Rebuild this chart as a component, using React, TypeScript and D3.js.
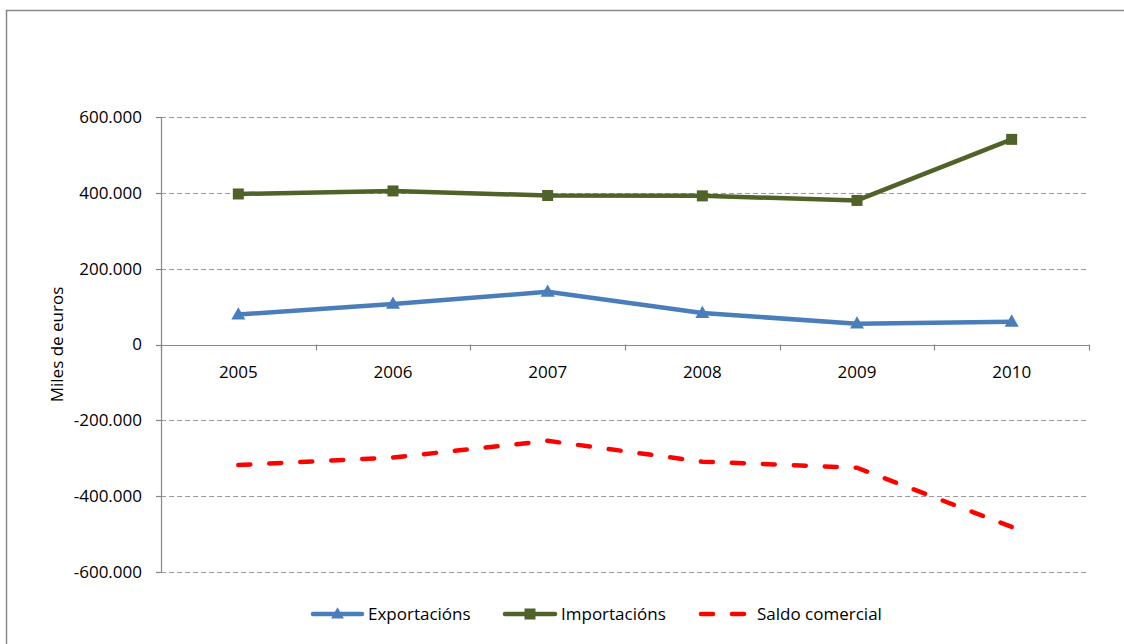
import React from "react";
import * as d3 from "d3";

const years = ["2005", "2006", "2007", "2008", "2009", "2010"];
const exportacions = [79000, 107000, 139000, 83000, 55000, 60000];
const importacions = [397000, 405000, 393000, 392000, 380000, 541000];
const saldoComercial = [-318000, -298000, -254000, -309000, -325000, -481000];
const yTicks = [-600000, -400000, -200000, 0, 200000, 400000, 600000];

const W = 1124;
const H = 644;
const plot = { left: 161, right: 1089, top: 117, bottom: 572 };
const FONT = "'Open Sans', 'Noto Sans', sans-serif";
const FS = 17;
const AXIS = "#878787";
const GRID = "#9a9a9a";
const BLUE = "#4A7EBB";
const GREEN = "#4F6228";
const RED = "#FF0000";

const fmt = (v: number) => {
  if (v === 0) return "0";
  const s = d3.format(",")(v);
  return s.replace(/,/g, ".").replace("−", "-");
};

function Triangle({ x, y, s = 14 }: { x: number; y: number; s?: number }) {
  const h = s * 0.88;
  return (
    <path
      d={`M${x},${y - h * 0.6} L${x + s / 2},${y + h * 0.4} L${x - s / 2},${y + h * 0.4} Z`}
      fill={BLUE}
    />
  );
}

function Square({ x, y, s = 11 }: { x: number; y: number; s?: number }) {
  return <rect x={x - s / 2} y={y - s / 2} width={s} height={s} fill={GREEN} />;
}

export default function App() {
  const x = d3.scaleBand<string>().domain(years).range([plot.left, plot.right]).padding(0);
  const y = d3.scaleLinear().domain([-600000, 600000]).range([plot.bottom, plot.top]);
  const cx = (yr: string) => (x(yr) as number) + x.bandwidth() / 2;

  const line = d3
    .line<number>()
    .x((_, i) => cx(years[i]))
    .y((d) => y(d));

  const boundaries = years.map((yr) => x(yr) as number).concat([plot.right]);
  const y0 = y(0);

  return (
    <div style={{ position: "fixed", left: 0, top: 0 }}>
      <svg width={W} height={H} style={{ display: "block", background: "#fff" }}>
        <rect x={6.5} y={10.5} width={W + 20} height={H + 20} fill="#fff" stroke={AXIS} strokeWidth={1.5} />

        {/* horizontal gridlines */}
        {yTicks
          .filter((t) => t !== 0)
          .map((t) => (
            <line
              key={"g" + t}
              x1={plot.left}
              x2={plot.right}
              y1={Math.round(y(t)) + 0.5}
              y2={Math.round(y(t)) + 0.5}
              stroke={GRID}
              strokeWidth={1.2}
              strokeDasharray="5 3"
            />
          ))}

        {/* y axis */}
        <line x1={plot.left + 0.5} x2={plot.left + 0.5} y1={plot.top} y2={plot.bottom} stroke={AXIS} strokeWidth={1.2} />
        {yTicks.map((t) => (
          <g key={"t" + t}>
            <line
              x1={plot.left - 5}
              x2={plot.left}
              y1={Math.round(y(t)) + 0.5}
              y2={Math.round(y(t)) + 0.5}
              stroke={AXIS}
              strokeWidth={1.2}
            />
            <text
              x={plot.left - 19}
              y={y(t)}
              dy="0.35em"
              textAnchor="end"
              fontFamily={FONT}
              fontSize={FS}
              fill="#000"
            >
              {fmt(t)}
            </text>
          </g>
        ))}

        {/* x axis at zero */}
        <line x1={plot.left} x2={plot.right} y1={Math.round(y0) + 0.5} y2={Math.round(y0) + 0.5} stroke={AXIS} strokeWidth={1.2} />
        {boundaries.map((b, i) => (
          <line
            key={"xb" + i}
            x1={Math.round(b) + 0.5}
            x2={Math.round(b) + 0.5}
            y1={y0}
            y2={y0 + 6}
            stroke={AXIS}
            strokeWidth={1.2}
          />
        ))}
        {years.map((yr) => (
          <text
            key={"xl" + yr}
            x={cx(yr)}
            y={y0 + 28}
            dy="0.35em"
            textAnchor="middle"
            fontFamily={FONT}
            fontSize={FS}
            fill="#000"
          >
            {yr}
          </text>
        ))}

        <text
          transform={`translate(57,${(plot.top + plot.bottom) / 2}) rotate(-90)`}
          dy="0.35em"
          textAnchor="middle"
          fontFamily={FONT}
          fontSize={FS}
          fill="#000"
        >
          Miles de euros
        </text>

        {/* series */}
        <path d={line(saldoComercial) || ""} fill="none" stroke={RED} strokeWidth={4.5} strokeDasharray="12 19" strokeLinecap="round" strokeLinejoin="round" />
        <path d={line(importacions) || ""} fill="none" stroke={GREEN} strokeWidth={4.5} strokeLinejoin="round" />
        <path d={line(exportacions) || ""} fill="none" stroke={BLUE} strokeWidth={4.5} strokeLinejoin="round" />
        {importacions.map((v, i) => (
          <Square key={"s" + i} x={cx(years[i])} y={y(v)} />
        ))}
        {exportacions.map((v, i) => (
          <Triangle key={"tr" + i} x={cx(years[i])} y={y(v)} />
        ))}

        {/* legend */}
        <g fontFamily={FONT} fontSize={FS} fill="#000">
          <line x1={313} x2={362} y1={614} y2={614} stroke={BLUE} strokeWidth={4.5} strokeLinecap="round" />
          <Triangle x={337.5} y={614} s={13} />
          <text x={368} y={614} dy="0.35em">Exportacións</text>

          <line x1={505} x2={555} y1={614} y2={614} stroke={GREEN} strokeWidth={4.5} strokeLinecap="round" />
          <Square x={530} y={614} s={11} />
          <text x={561} y={614} dy="0.35em">Importacións</text>

          <line x1={701} x2={747} y1={614} y2={614} stroke={RED} strokeWidth={4.5} strokeDasharray="12 19" strokeLinecap="round" />
          <text x={757} y={614} dy="0.35em">Saldo comercial</text>
        </g>
      </svg>
    </div>
  );
}
